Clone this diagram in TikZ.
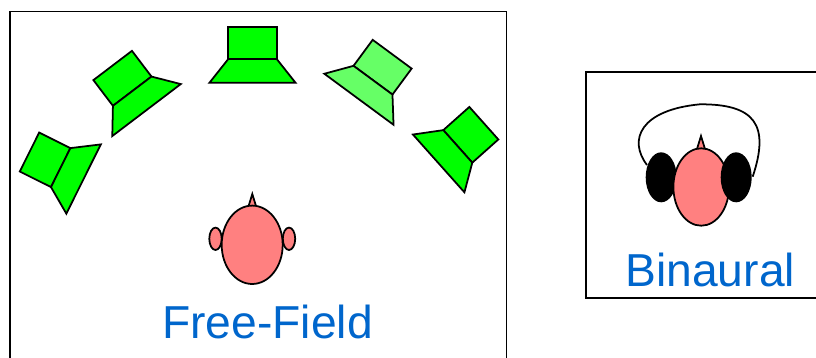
\documentclass[tikz,border=0pt]{standalone}
\usepackage{fontspec}
\setmainfont{Liberation Sans}
\usepackage{tikz}

\definecolor{spkgreen}{RGB}{0,255,0}
\definecolor{spklight}{RGB}{102,255,102}
\definecolor{skin}{RGB}{255,128,128}
\definecolor{labelblue}{RGB}{0,102,204}

\tikzset{
  speaker/.pic={
    % cabinet
    \draw[pic actions] (-24.2,-32.3) rectangle (24.2,0);
    % horn
    \draw[pic actions] (-24.2,0) -- (24.2,0) -- (43,23.7) -- (-43,23.7) -- cycle;
  },
  spk/.style={draw=black, fill=spkgreen},
  part/.style={draw=black, fill=skin},
  caption/.style={font=\fontsize{26.3}{30}\selectfont, text=labelblue, anchor=base},
}

\begin{document}
\begin{tikzpicture}[x={(0.02cm,0)}, y={(0,-0.02cm)}, line width=1pt]
  \useasboundingbox (0,0) rectangle (816,358);
  \clip (0,0) rectangle (816,358);
  % rahmen
  \draw (10,11.5) rectangle (506.5,370);
  \draw (586,71.7) rectangle (830,298);
  % lautsprecher im halbkreis
  \pic[spk, rotate=63.5, xscale=0.9, yscale=1.08] at (60.7,167.6) {speaker};
  \pic[spk, rotate=37.2] at (132.2,91.2) {speaker};
  \pic[spk] at (252.5,59) {speaker};
  \pic[spk, fill=spklight, rotate=-36.4] at (373,80.2) {speaker};
  \pic[spk, rotate=-48.3, xscale=0.9, yscale=1.08] at (457.8,146.4) {speaker};
  % kopf (freifeld)
  \draw[part] (248.3,207) -- (252.3,194) -- (256.3,207) -- cycle;
  \draw[part] (215.5,238.8) ellipse [x radius=6.2, y radius=11.2];
  \draw[part] (289,238.8) ellipse [x radius=6.2, y radius=11.2];
  \draw[part] (252.2,244.8) ellipse [x radius=30.5, y radius=39.2];
  \node[caption] (ff) at (267.5,338) {Free-Field};
  % kopf mit kopfhoerer
  \draw (647,165) .. controls (628,140) and (640,110) .. (700,104.3)
        .. controls (755,104) and (770,125) .. (752.7,176.7);
  \fill (661.2,177.3) ellipse [x radius=15.5, y radius=25];
  \draw[part] (697,149) -- (701,136) -- (705,149) -- cycle;
  \draw[part] (701.2,187) ellipse [x radius=27.8, y radius=38.7];
  \fill (736.2,177.3) ellipse [x radius=15.5, y radius=25];
  \node[caption] (bin) at (710.3,287) {Binaural};
\end{tikzpicture}
\end{document}
